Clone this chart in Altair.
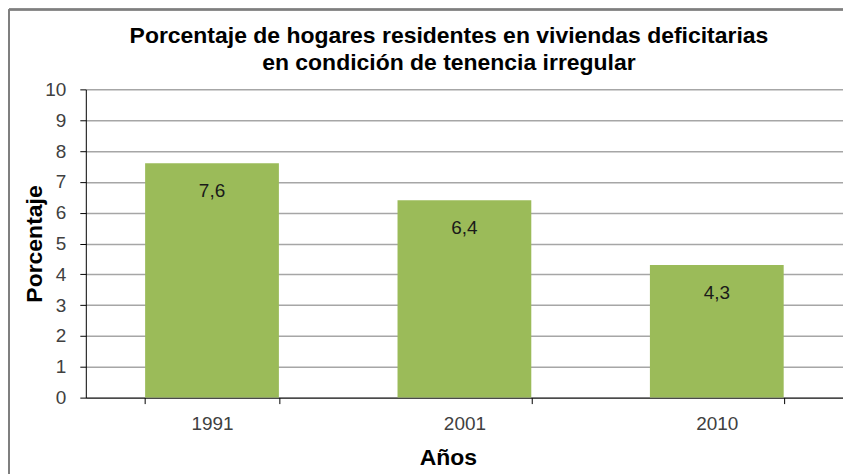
import altair as alt
import pandas as pd

years = ["1991", "2001", "2010"]
values = [7.6, 6.4, 4.3]
labels = ["7,6", "6,4", "4,3"]
y_ticks = list(range(0, 11))

title_lines = ["Porcentaje de hogares residentes en viviendas deficitarias",
               "en condición de tenencia irregular"]

df = pd.DataFrame({"year": years, "value": values, "label": labels})

W, H = 759, 309
FONT = "Liberation Sans"

x_enc = alt.X("year:N", sort=years,
              scale=alt.Scale(paddingInner=0.47, paddingOuter=0.235),
              axis=alt.Axis(title="Años", labelAngle=0, tickBand="extent",
                            domainColor="#000000", tickColor="#000000", tickSize=6,
                            labelFontSize=19, labelColor="#404040", labelFont=FONT,
                            labelPadding=11,
                            titleFont=FONT, titleFontSize=23, titleFontWeight="bold",
                            titleColor="#000000", titleX=363, titleY=60,
                            titleBaseline="middle"))

y_enc = alt.Y("value:Q",
              scale=alt.Scale(domain=[0, 10], nice=False),
              axis=alt.Axis(title="Porcentaje", values=y_ticks, grid=True,
                            labelOverlap=False,
                            gridColor="#a6a6a6", gridWidth=1.5,
                            domainColor="#000000", tickColor="#000000", tickSize=6,
                            labelFontSize=19, labelColor="#404040", labelFont=FONT,
                            labelPadding=14,
                            titleFont=FONT, titleFontSize=23, titleFontWeight="bold",
                            titleColor="#000000", titleX=-51, titleY=H / 2,
                            titleAngle=-90, titleBaseline="middle"))

base = alt.Chart(df).encode(x=x_enc, y=y_enc)

bars = base.mark_bar(color="#9BBB59")

text = base.mark_text(baseline="top", dy=19, fontSize=19, font=FONT,
                      color="#1a1a1a").encode(text="label:N")

t1 = alt.Chart(pd.DataFrame({"t": [title_lines[0]]})).mark_text(
    fontSize=23, fontWeight="bold", font=FONT, color="#000000",
    align="center", baseline="alphabetic").encode(
    x=alt.value(364), y=alt.value(-46), text="t:N")
t2 = alt.Chart(pd.DataFrame({"t": [title_lines[1]]})).mark_text(
    fontSize=23, fontWeight="bold", font=FONT, color="#000000",
    align="center", baseline="alphabetic").encode(
    x=alt.value(364), y=alt.value(-19), text="t:N")

border_left = alt.Chart(df).mark_rule(color="#7f7f7f", strokeWidth=2).encode(
    x=alt.value(-77), y=alt.value(-80), y2=alt.value(H + 90))
border_top = alt.Chart(df).mark_rule(color="#7f7f7f", strokeWidth=2).encode(
    x=alt.value(-77), x2=alt.value(W + 10), y=alt.value(-80))

chart = alt.layer(bars, text, t1, t2, border_left, border_top).properties(
    width=W, height=H,
    autosize=alt.AutoSizeParams(type="none"),
    padding={"left": 78, "top": 81, "right": 0, "bottom": 76},
).configure_view(stroke=None)

chart.save("out.html", embed_options={"renderer": "svg", "actions": False})
